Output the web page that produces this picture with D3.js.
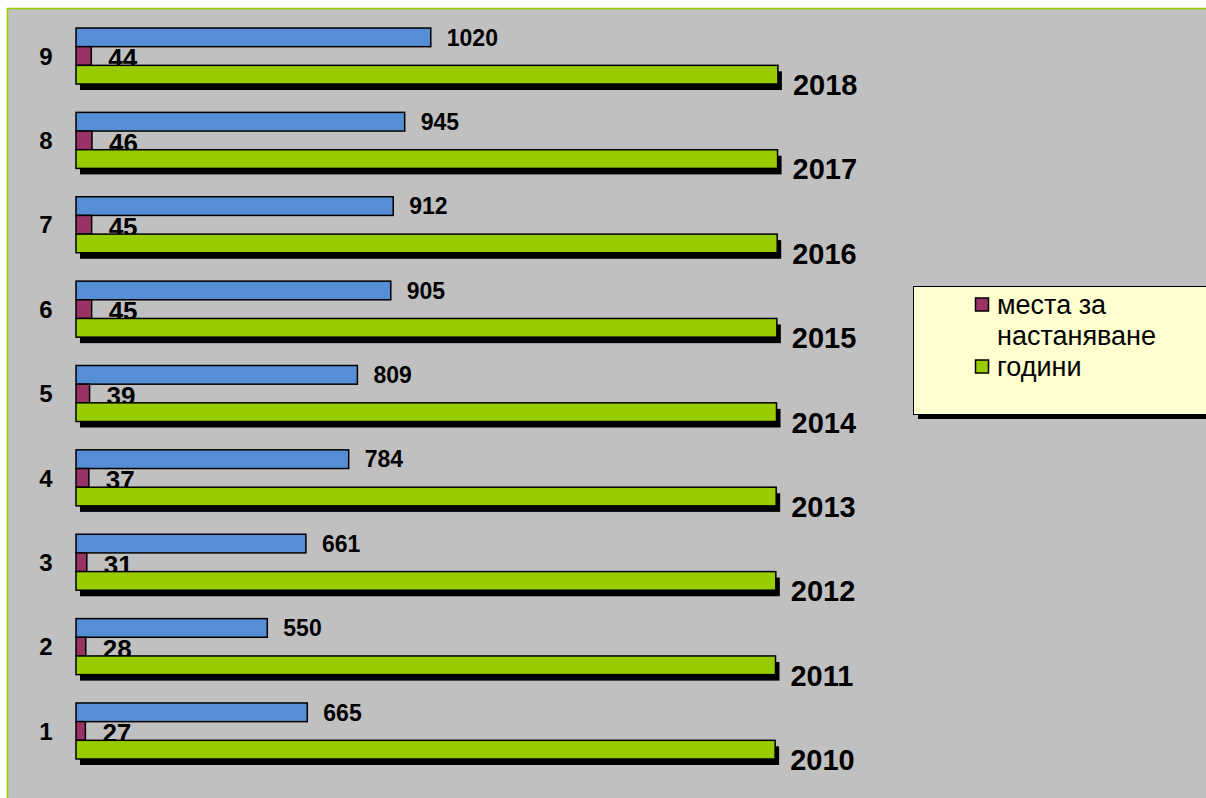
<!DOCTYPE html>
<html>
<head>
<meta charset="utf-8">
<script src="https://cdn.jsdelivr.net/npm/d3@7"></script>
<style>
  body { margin: 0; background: #fff; }
  text { font-family: Arial, "Liberation Sans", sans-serif; }
</style>
</head>
<body>
<div id="chart"></div>
<script>
// data
var categories = ["1", "2", "3", "4", "5", "6", "7", "8", "9"];
var series1 = [665, 550, 661, 784, 809, 905, 912, 945, 1020];
var places = [27, 28, 31, 37, 39, 45, 45, 46, 44];
var years = [2010, 2011, 2012, 2013, 2014, 2015, 2016, 2017, 2018];
var legendNames = ["места за настаняване", "години"];

var W = 1206, H = 798;
var svg = d3.select("#chart").append("svg")
  .attr("width", W).attr("height", H);

// plot area background with green frame line
svg.append("rect").attr("x", 7.5).attr("y", 8.5).attr("width", W).attr("height", H)
  .attr("fill", "#c0c0c0").attr("stroke", "#99cc00").attr("stroke-width", 1.5);

var rows = categories.map(function(c, i) {
  return { cat: c, a: series1[i], b: places[i], y: years[i] };
});

var x = d3.scaleLinear().domain([0, 2300]).range([76, 876]);
var y = d3.scaleBand().domain(categories.slice().reverse())
  .range([28, 759]).paddingInner(0.336).paddingOuter(0);
var sub = d3.scaleBand().domain(["a", "b", "y"]).range([0, y.bandwidth()]);

var g = svg.selectAll(".grp").data(rows).enter().append("g")
  .attr("class", "grp")
  .attr("transform", function(d) { return "translate(0," + y(d.cat) + ")"; });

// shadow of green bars
g.append("rect")
  .attr("x", x(0) + 4).attr("y", sub("y") + 6)
  .attr("width", function(d) { return x(d.y) - x(0); })
  .attr("height", sub.bandwidth())
  .attr("fill", "#000");

// blue bars
g.append("rect")
  .attr("x", x(0)).attr("y", sub("a"))
  .attr("width", function(d) { return x(d.a) - x(0); })
  .attr("height", sub.bandwidth())
  .attr("fill", "#558ed5").attr("stroke", "#000").attr("stroke-width", 1.5);

// purple bars
g.append("rect")
  .attr("x", x(0)).attr("y", sub("b"))
  .attr("width", function(d) { return x(d.b) - x(0); })
  .attr("height", sub.bandwidth())
  .attr("fill", "#993366").attr("stroke", "#000").attr("stroke-width", 1.5);

// purple labels (partly covered by green bar)
g.append("text")
  .attr("x", function(d) { return x(d.b) + 17; })
  .attr("y", sub("b") + sub.bandwidth() + 2)
  .attr("font-size", 26).attr("font-weight", "bold").attr("fill", "#000")
  .text(function(d) { return d.b; });

// green bars
g.append("rect")
  .attr("x", x(0)).attr("y", sub("y"))
  .attr("width", function(d) { return x(d.y) - x(0); })
  .attr("height", sub.bandwidth())
  .attr("fill", "#99cc00").attr("stroke", "#000").attr("stroke-width", 1.5);

// blue labels
g.append("text")
  .attr("x", function(d) { return x(d.a) + 16; })
  .attr("y", sub("a") + sub.bandwidth() / 2)
  .attr("dy", "0.36em")
  .attr("font-size", 23).attr("font-weight", "bold").attr("fill", "#000")
  .text(function(d) { return d.a; });

// year labels
g.append("text")
  .attr("x", function(d) { return x(d.y) + 15; })
  .attr("y", sub("y") + sub.bandwidth() + 11)
  .attr("font-size", 29).attr("font-weight", "bold").attr("fill", "#000")
  .text(function(d) { return d.y; });

// category labels
g.append("text")
  .attr("x", 46)
  .attr("y", sub("b") + sub.bandwidth() / 2)
  .attr("dy", "0.36em")
  .attr("text-anchor", "middle")
  .attr("font-size", 24).attr("font-weight", "bold").attr("fill", "#000")
  .text(function(d) { return d.cat; });

// legend
var lg = svg.append("g");
lg.append("rect").attr("x", 918).attr("y", 291).attr("width", 320).attr("height", 128).attr("fill", "#000");
lg.append("rect").attr("x", 913.5).attr("y", 286.5).attr("width", 320).attr("height", 128)
  .attr("fill", "#ffffd0").attr("stroke", "#000").attr("stroke-width", 1);

var legendColors = ["#993366", "#99cc00"];
var legendY = [305, 367];
lg.selectAll(".sw").data(legendNames).enter().append("rect")
  .attr("x", 975.5).attr("y", function(d, i) { return legendY[i] - 7; })
  .attr("width", 13).attr("height", 13)
  .attr("fill", function(d, i) { return legendColors[i]; })
  .attr("stroke", "#000").attr("stroke-width", 1.5);

var lt = lg.selectAll(".lt").data(legendNames).enter().append("text")
  .attr("x", 997).attr("y", function(d, i) { return legendY[i] + 9; })
  .attr("font-size", 27).attr("fill", "#000");
lt.selectAll("tspan").data(function(d, i) {
    return i === 0 ? ["места за", "настаняване"] : [d];
  }).enter().append("tspan")
  .attr("x", 997).attr("dy", function(d, i) { return i === 0 ? 0 : 31; })
  .text(function(d) { return d; });
</script>
</body>
</html>
